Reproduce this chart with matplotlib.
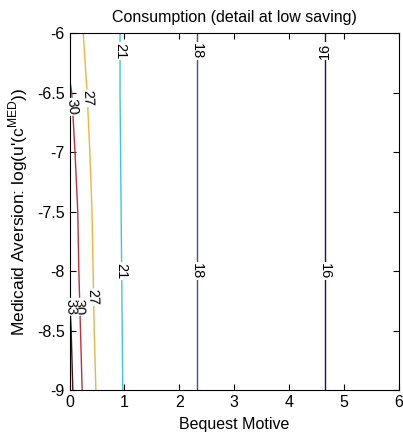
import numpy as np
import matplotlib.pyplot as plt

plt.rcParams["font.family"] = "Liberation Sans"
plt.rcParams["mathtext.fontset"] = "custom"
plt.rcParams["mathtext.rm"] = "Liberation Sans"

# contour levels and their x positions (bequest motive) read at each y value
levels = [16, 18, 21, 27, 30, 33]
y_full = [-6, -6.5, -7, -7.5, -8, -8.5, -9]
x_16 = [4.65, 4.65, 4.65, 4.65, 4.65, 4.65, 4.65]
x_18 = [2.32, 2.32, 2.32, 2.32, 2.32, 2.32, 2.32]
x_21 = [0.92, 0.92, 0.93, 0.94, 0.95, 0.96, 0.97]
x_27 = [0.25, 0.32, 0.37, 0.41, 0.43, 0.45, 0.48]
y_30 = [-6.38, -6.5, -7, -7.5, -8, -8.5, -9]
x_30 = [0.0, 0.04, 0.10, 0.15, 0.17, 0.20, 0.23]
y_33 = [-8.2, -8.5, -9]
x_33 = [0.0, 0.03, 0.06]

# label positions (x, y, rotation) per level
labels_16 = [(4.65, -6.15, 90), (4.65, -8.0, -90)]
labels_18 = [(2.32, -6.15, -90), (2.32, -8.0, -90)]
labels_21 = [(0.92, -6.15, -90), (0.95, -8.0, -90)]
labels_27 = [(0.33, -6.55, -88), (0.42, -8.22, -88)]
labels_30 = [(0.04, -6.62, -85), (0.17, -8.3, -88)]
labels_33 = [(0.02, -8.3, -88)]

colors = {16: "#14146e", 18: "#4848aa", 21: "#3fc4e0",
          27: "#f0b43c", 30: "#c0303c", 33: "#4a1414"}

fig = plt.figure(figsize=(4.03, 4.32), dpi=100)
ax = fig.add_axes([0.1725, 0.097, 0.8175, 0.8266])

lines = [(16, x_16, y_full, labels_16), (18, x_18, y_full, labels_18),
         (21, x_21, y_full, labels_21), (27, x_27, y_full, labels_27),
         (30, x_30, y_30, labels_30), (33, x_33, y_33, labels_33)]

for lev, xs, ys, labs in lines:
    ax.plot(xs, ys, color=colors[lev], lw=1.0)
    for lx, ly, rot in labs:
        ax.text(lx, ly, str(lev), rotation=rot, ha="center", va="center",
                fontsize=10.5, color="black",
                bbox=dict(facecolor="white", edgecolor="none", pad=0.5))

ax.set_xlim(0, 6)
ax.set_ylim(-9, -6)
ax.set_xticks([0, 1, 2, 3, 4, 5, 6])
ax.set_yticks([-9, -8.5, -8, -7.5, -7, -6.5, -6])
ax.set_yticklabels(["-9", "-8.5", "-8", "-7.5", "-7", "-6.5", "-6"])
ax.tick_params(direction="in", top=True, right=True, labelsize=11.5, length=4, width=0.8)
for s in ax.spines.values():
    s.set_linewidth(0.8)

ax.set_title("Consumption (detail at low saving)", fontsize=11.5, pad=8)
ax.set_xlabel("Bequest Motive", fontsize=11.5, labelpad=5)
ax.set_ylabel("Medicaid Aversion: log(u'(c$^{\\rm MED}$))", fontsize=12.5, labelpad=5)

fig.savefig("out.png", dpi=100)
